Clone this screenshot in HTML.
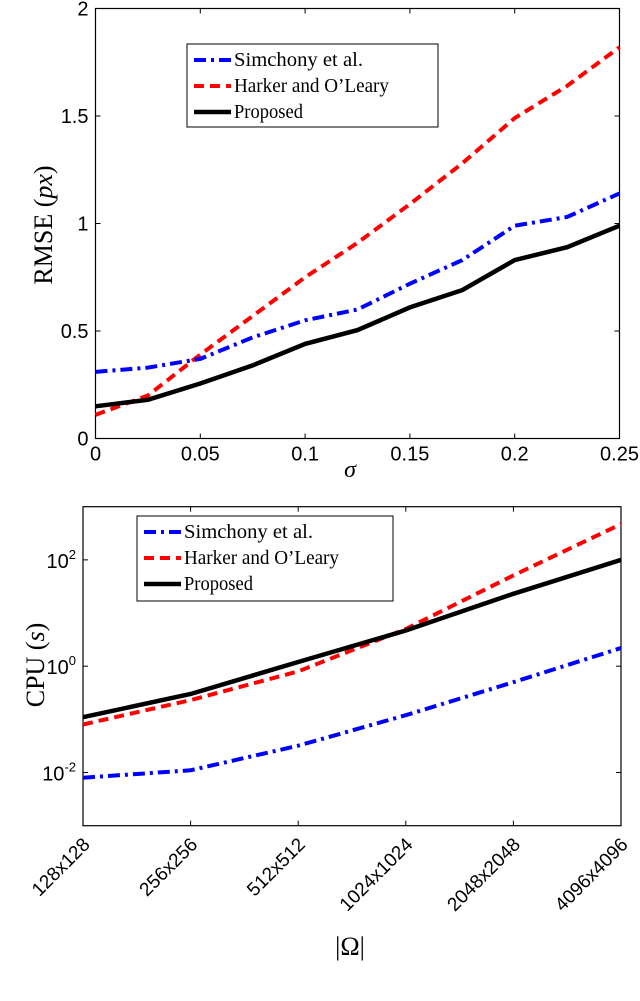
<!DOCTYPE html>
<html><head><meta charset="utf-8"><style>
body{margin:0;background:#fff;}
svg text{font-family:"Liberation Sans",sans-serif;}
.serif{font-family:"Liberation Serif",serif;}
</style></head><body>
<svg id="fig" width="640" height="996" viewBox="0 0 640 996" xmlns="http://www.w3.org/2000/svg"></svg>
<script>
// Top chart data
const sigmaVals=[0,0.025,0.05,0.075,0.1,0.125,0.15,0.175,0.2,0.225,0.25];
const rmseSimchony=[0.31,0.33,0.37,0.47,0.55,0.6,0.72,0.83,0.99,1.03,1.14];
const rmseHarker=[0.11,0.2,0.39,0.57,0.75,0.91,1.09,1.28,1.49,1.64,1.82];
const rmseProposed=[0.15,0.18,0.256,0.34,0.44,0.504,0.61,0.69,0.83,0.89,0.99];
const topXTicks=[0,0.05,0.1,0.15,0.2,0.25];
const topXTickLabels=["0","0.05","0.1","0.15","0.2","0.25"];
const topYTicks=[0,0.5,1,1.5,2];
const topYTickLabels=["0","0.5","1","1.5","2"];
// Bottom chart data
const sizeCats=["128x128","256x256","512x512","1024x1024","2048x2048","4096x4096"];
const cpuSimchony=[0.008,0.011,0.032,0.12,0.5,2.2];
const cpuHarker=[0.08,0.23,0.8,5,51,470];
const cpuProposed=[0.11,0.3,1.2,4.7,23,100];
const botYTickExps=[-2,0,2];

const NS="http://www.w3.org/2000/svg";
const svg=document.getElementById('fig');
function mk(tag,attrs,parent){const e=document.createElementNS(NS,tag);for(const k in attrs)e.setAttribute(k,attrs[k]);(parent||svg).appendChild(e);return e;}

const styles={
 simchony:{stroke:'#0000ff','stroke-width':4,'stroke-dasharray':'12,5,3,5',fill:'none'},
 harker:{stroke:'#ff0000','stroke-width':4,'stroke-dasharray':'10,6',fill:'none'},
 proposed:{stroke:'#000','stroke-width':4.5,fill:'none'}
};

function drawLine(xs,ys,fx,fy,st,name){
  const d=xs.map((x,i)=>(i?'L':'M')+fx(x).toFixed(1)+','+fy(ys[i]).toFixed(1)).join(' ');
  const p=mk('path',Object.assign({d:d},st));
  
  
}
function legend(x,y,w,h,name){
  const g=mk('g',{});
  
  
  mk('rect',{x:x,y:y,width:w,height:h,fill:'#fff',stroke:'#000','stroke-width':1},g);
  const items=[['Simchony et al.','simchony'],['Harker and O\u2019Leary','harker'],['Proposed','proposed']];
  items.forEach((it,i)=>{
    const cy=y+16+i*26;
    mk('line',Object.assign({x1:x+7,x2:x+44,y1:cy,y2:cy},styles[it[1]]),g);
    const t=mk('text',{x:x+47,y:cy+6,'font-size':20,class:'serif',textLength:(it[0].length*8.6).toFixed(0),lengthAdjust:'spacingAndGlyphs'},g);
    t.textContent=it[0];
    
    
  });
}

// ---- Top chart
const T={l:95.5,r:619.5,t:8.5,b:438.5};
const tx=v=>T.l+(v-0)/0.25*(T.r-T.l);
const ty=v=>T.b-(v/2)*(T.b-T.t);
const topAxes=mk('rect',{x:T.l,y:T.t,width:T.r-T.l,height:T.b-T.t,fill:'none',stroke:'#000','stroke-width':1.2});


topXTicks.forEach((v,i)=>{
  const x=tx(v);
  mk('line',{x1:x,x2:x,y1:T.b,y2:T.b-5,stroke:'#000'});
  mk('line',{x1:x,x2:x,y1:T.t,y2:T.t+5,stroke:'#000'});
  const t=mk('text',{x:x,y:T.b+22,'font-size':20,'text-anchor':'middle'});
  t.textContent=topXTickLabels[i];
  
  
});
topYTicks.forEach((v,i)=>{
  const y=ty(v);
  mk('line',{x1:T.l,x2:T.l+5,y1:y,y2:y,stroke:'#000'});
  mk('line',{x1:T.r,x2:T.r-5,y1:y,y2:y,stroke:'#000'});
  const t=mk('text',{x:T.l-7,y:y+7,'font-size':20,'text-anchor':'end'});
  t.textContent=topYTickLabels[i];
  
  
});
drawLine(sigmaVals,rmseHarker,tx,ty,styles.harker,'rmse-harker-line');
drawLine(sigmaVals,rmseSimchony,tx,ty,styles.simchony,'rmse-simchony-line');
drawLine(sigmaVals,rmseProposed,tx,ty,styles.proposed,'rmse-proposed-line');
legend(187,44,251,83,'top-legend');
let t1=mk('text',{x:350,y:477,'font-size':24,'text-anchor':'middle',class:'serif','font-style':'italic'});
t1.textContent='\u03c3';


let t2=mk('text',{x:0,y:0,'font-size':26,'text-anchor':'middle',class:'serif',transform:'translate(52,225) rotate(-90)'});
t2.innerHTML='RMSE (<tspan font-style="italic">px</tspan>)';



// ---- Bottom chart
const B={l:83,r:621,t:506.7,b:825.7};
const bx=i=>B.l+i/(sizeCats.length-1)*(B.r-B.l);
const by=v=>B.b-(Math.log10(v)+3)/6*(B.b-B.t);
const botAxes=mk('rect',{x:B.l,y:B.t,width:B.r-B.l,height:B.b-B.t,fill:'none',stroke:'#000','stroke-width':1.2});


sizeCats.forEach((c,i)=>{
  const x=bx(i);
  mk('line',{x1:x,x2:x,y1:B.b,y2:B.b-5,stroke:'#000'});
  mk('line',{x1:x,x2:x,y1:B.t,y2:B.t+5,stroke:'#000'});
  const t=mk('text',{x:0,y:0,'font-size':19,'text-anchor':'end',transform:'translate('+(x+8)+','+(B.b+20)+') rotate(-45)'});
  t.textContent=c;
  
  
});
botYTickExps.forEach(e=>{
  const y=by(Math.pow(10,e));
  mk('line',{x1:B.l,x2:B.l+5,y1:y,y2:y,stroke:'#000'});
  mk('line',{x1:B.r,x2:B.r-5,y1:y,y2:y,stroke:'#000'});
  const t=mk('text',{x:B.l-7,y:y+8,'font-size':20,'text-anchor':'end'});
  t.innerHTML='10<tspan dy="-9" font-size="13">'+e+'</tspan>';
  
  
});
drawLine([0,1,2,3,4,5],cpuHarker,bx,by,styles.harker,'cpu-harker-line');
drawLine([0,1,2,3,4,5],cpuSimchony,bx,by,styles.simchony,'cpu-simchony-line');
drawLine([0,1,2,3,4,5],cpuProposed,bx,by,styles.proposed,'cpu-proposed-line');
legend(137,516,256,85,'bottom-legend');
let t3=mk('text',{x:350,y:955,'font-size':26,'text-anchor':'middle',class:'serif'});
t3.textContent='|\u03a9|';


let t4=mk('text',{x:0,y:0,'font-size':26,'text-anchor':'middle',class:'serif',transform:'translate(44,665) rotate(-90)'});
t4.innerHTML='CPU (<tspan font-style="italic">s</tspan>)';


</script>
</body></html>
